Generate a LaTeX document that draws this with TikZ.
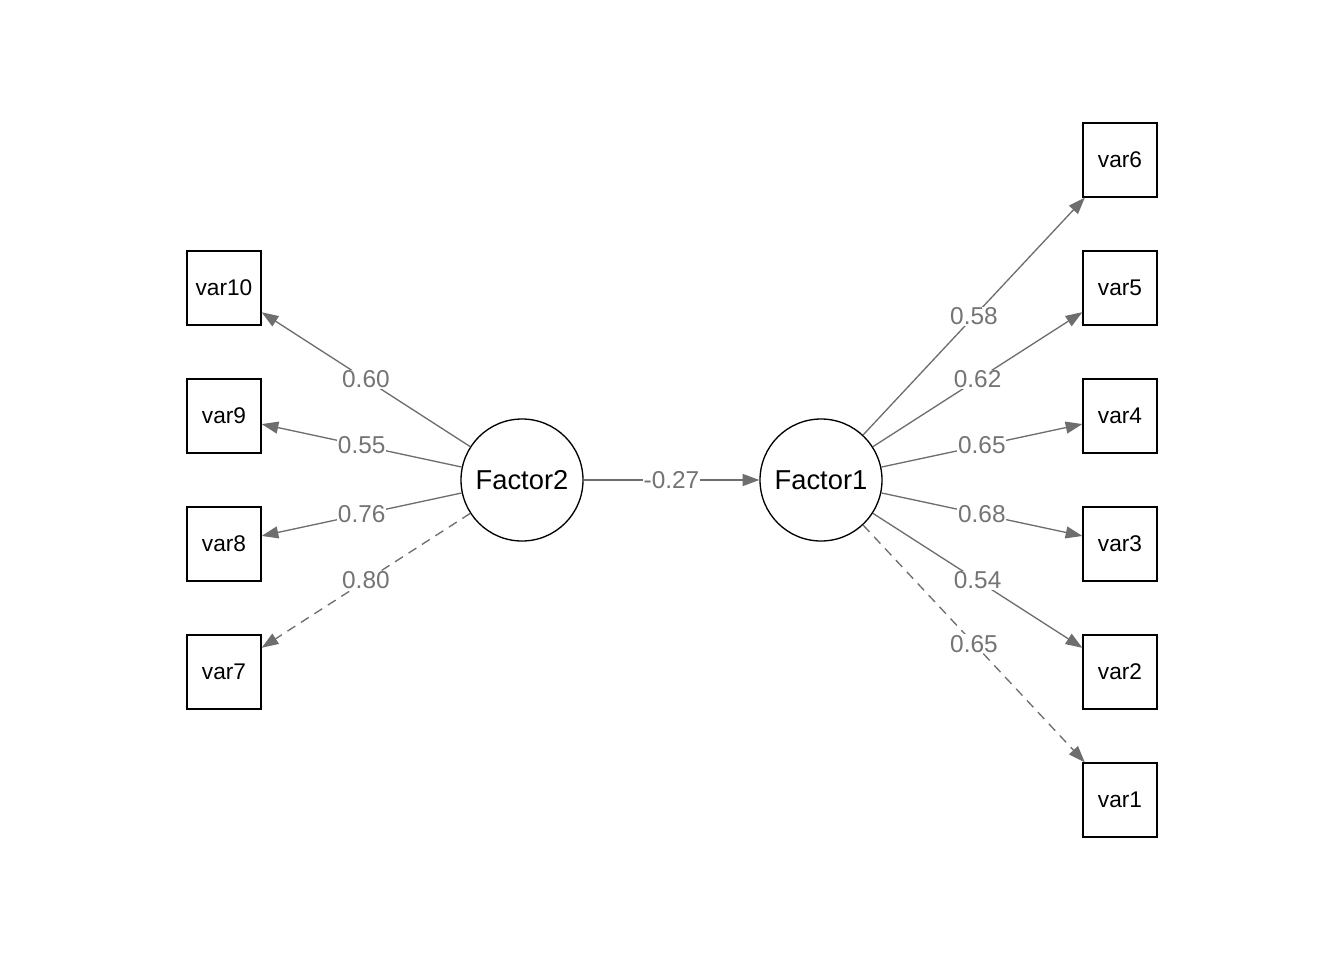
\documentclass[tikz,border=0pt]{standalone}
\usepackage{fontspec}
\setmainfont{Liberation Sans}
\usetikzlibrary{arrows.meta}
\definecolor{edgegray}{HTML}{6E6E6E}
\definecolor{labgray}{HTML}{747474}
\begin{document}
\begin{tikzpicture}[x=0.75pt,y=-0.75pt,
  latent/.style={circle,draw=black,line width=1pt,minimum size=91.5pt,inner sep=0pt,font=\fontsize{20.5}{23}\selectfont},
  manifest/.style={rectangle,draw=black,line width=1pt,minimum size=55.5pt,inner sep=0pt,font=\fontsize{17}{20}\selectfont},
  path/.style={draw=edgegray,line width=1pt,-{Triangle[length=12.5pt,width=9pt]}},
  dpath/.style={path,dash pattern=on 7pt off 5pt},
  lab/.style={fill=white,inner sep=0.5pt,text=labgray,font=\fontsize{18.3}{21}\selectfont}]
\useasboundingbox (0,0) rectangle (1344,960);
\node[latent] (f2) at (522,480) {Factor2};
\node[latent] (f1) at (821,480) {Factor1};
\node[manifest] (v10) at (224,288) {var10};
\node[manifest] (v9) at (224,416) {var9};
\node[manifest] (v8) at (224,544) {var8};
\node[manifest] (v7) at (224,672) {var7};
\node[manifest] (v6) at (1120,160) {var6};
\node[manifest] (v5) at (1120,288) {var5};
\node[manifest] (v4) at (1120,416) {var4};
\node[manifest] (v3) at (1120,544) {var3};
\node[manifest] (v2) at (1120,672) {var2};
\node[manifest] (v1) at (1120,800) {var1};
\draw[path] (f2) -- node[lab] {-0.27} (f1);
\draw[path] (f2) -- node[lab] {0.60} (v10);
\draw[path] (f2) -- node[lab] {0.55} (v9);
\draw[path] (f2) -- node[lab] {0.76} (v8);
\draw[dpath] (f2) -- node[lab] {0.80} (v7);
\draw[path] (f1) -- node[lab] {0.58} (v6);
\draw[path] (f1) -- node[lab] {0.62} (v5);
\draw[path] (f1) -- node[lab] {0.65} (v4);
\draw[path] (f1) -- node[lab] {0.68} (v3);
\draw[path] (f1) -- node[lab] {0.54} (v2);
\draw[dpath] (f1) -- node[lab] {0.65} (v1);
\end{tikzpicture}
\end{document}
